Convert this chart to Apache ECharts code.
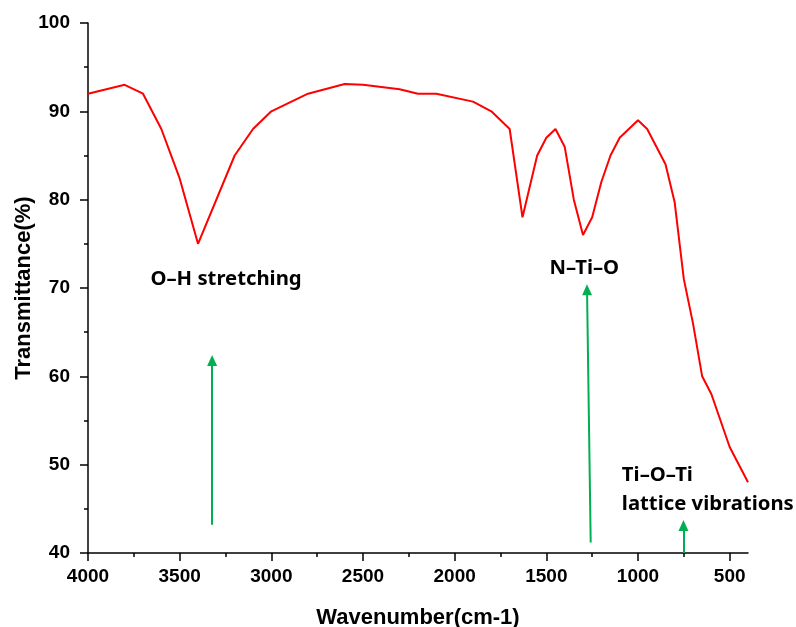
<!DOCTYPE html>
<html>
<head>
<meta charset="UTF-8">
<title>FTIR spectrum</title>
<style>
  html, body { margin: 0; padding: 0; background: #fff; }
  #chart { width: 796px; height: 627px; }
</style>
</head>
<body>
<div id="chart"></div>
<script src="https://cdn.jsdelivr.net/npm/echarts@6/dist/echarts.min.js"></script>
<script>
// spectrum
var wavenumber = [4000, 3800, 3700, 3600, 3500, 3400, 3200, 3100, 3000, 2800, 2600, 2500, 2300, 2200, 2100, 1900, 1800, 1700, 1630, 1550, 1500, 1450, 1400, 1350, 1300, 1250, 1200, 1150, 1100, 1000, 950, 850, 800, 750, 700, 650, 600, 500, 400];
var transmittance = [92, 93, 92, 88, 82.4, 75, 85, 88, 90, 92, 93.1, 93, 92.5, 92, 92, 91.1, 90, 88, 78, 85, 87, 88, 86, 80, 76, 78, 82, 85, 87, 89, 88, 84, 79.7, 71, 66, 60, 58, 52, 48];

var xMajor = [4000, 3500, 3000, 2500, 2000, 1500, 1000, 500];
var xMinor = [3750, 3250, 2750, 2250, 1750, 1250, 750];

// annotation arrows: [x0, y0, x1, y1] tail -> head
var arrows = [
  [3323, 43.2, 3323, 61.8],
  [1258, 41.2, 1278, 69.8],
  [752, 40, 752, 43.1]
];
var noteText = ['O\u2013H stretching', 'N\u2013Ti\u2013O', 'Ti\u2013O\u2013Ti\nlattice vibrations'];
var noteX = [3247, 1293, 1088];
var noteY = [71.0, 72.2, 47.2];
var noteAlign = ['center', 'center', 'left'];

var chart = echarts.init(document.getElementById('chart'));

var axisFont = 'Liberation Sans, Arial, sans-serif';
var noteFont = 'Noto Sans, sans-serif';

var lineData = wavenumber.map(function (w, i) { return [w, transmittance[i]]; });

// plot height, used to pull the minor-tick axis down onto the bottom line
var plotH = 627 - 23 - 74;

var option = {
  animation: false,
  backgroundColor: '#fff',
  grid: { left: 88, right: 48, top: 23, bottom: 74, containLabel: false, outerBoundsMode: 'none' },
  xAxis: [
    {
      type: 'value',
      min: 400,
      max: 4000,
      inverse: true,
      position: 'bottom',
      name: 'Wavenumber(cm-1)',
      nameLocation: 'middle',
      nameGap: 54,
      nameMoveOverlap: false,
      nameTextStyle: { fontFamily: axisFont, fontWeight: 'bold', fontSize: 22, color: '#000' },
      axisLine: { lineStyle: { color: '#000', width: 1.5 } },
      axisTick: { show: true, length: 8, lineStyle: { color: '#000', width: 1.5 }, customValues: xMajor },
      axisLabel: {
        fontFamily: axisFont, fontWeight: 'bold', fontSize: 19, color: '#000', margin: 14,
        customValues: xMajor,
        formatter: function (v) { return String(v); }
      },
      splitLine: { show: false }
    },
    {
      // minor ticks only; sits on top, moved down by offset
      type: 'value',
      min: 400,
      max: 4000,
      inverse: true,
      position: 'top',
      offset: -plotH,
      axisLine: { show: false },
      axisTick: { show: true, inside: true, length: 4, lineStyle: { color: '#000', width: 1.5 }, customValues: xMinor },
      axisLabel: { show: false },
      splitLine: { show: false }
    }
  ],
  yAxis: {
    type: 'value',
    min: 40,
    max: 100,
    interval: 10,
    name: 'Transmittance(%)',
    nameLocation: 'middle',
    nameGap: 53,
    nameMoveOverlap: false,
    nameTextStyle: { fontFamily: axisFont, fontWeight: 'bold', fontSize: 22, color: '#000' },
    axisLine: { show: true, lineStyle: { color: '#000', width: 1.5 } },
    axisTick: { show: true, length: 8, lineStyle: { color: '#000', width: 1.5 } },
    minorTick: { show: true, splitNumber: 2, length: 4, lineStyle: { color: '#000', width: 1.5 } },
    axisLabel: { fontFamily: axisFont, fontWeight: 'bold', fontSize: 19, color: '#000', margin: 18 },
    splitLine: { show: false }
  },
  series: [
    {
      type: 'line',
      data: lineData,
      showSymbol: false,
      symbol: 'none',
      lineStyle: { color: '#ff0000', width: 2 },
      itemStyle: { color: '#ff0000' },
      silent: true
    },
    {
      type: 'line',
      data: [],
      silent: true,
      markLine: {
        silent: true,
        symbol: ['none', 'triangle'],
        symbolSize: [10, 11],
        label: { show: false },
        lineStyle: { color: '#00b050', width: 2, type: 'solid' },
        data: arrows.map(function (a) {
          return [{ coord: [a[0], a[1]] }, { coord: [a[2], a[3]] }];
        })
      },
      markPoint: {
        silent: true,
        symbol: 'circle',
        symbolSize: 1,
        itemStyle: { color: 'rgba(0,0,0,0)' },
        data: noteText.map(function (t, i) {
          return {
            name: t,
            coord: [noteX[i], noteY[i]],
            label: {
              show: true,
              position: 'inside',
              formatter: '{b}',
              align: noteAlign[i],
              verticalAlign: 'middle',
              fontFamily: noteFont,
              fontWeight: 'bold',
              fontSize: 20.3,
              lineHeight: 29,
              color: '#000'
            }
          };
        })
      }
    }
  ]
};

chart.setOption(option);
</script>
</body>
</html>
